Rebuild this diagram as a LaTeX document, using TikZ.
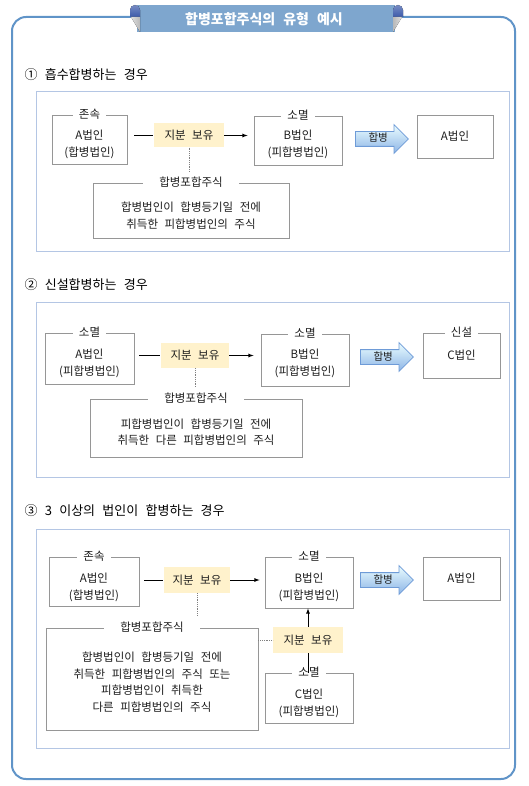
\documentclass[tikz,border=0pt]{standalone}
\usepackage{fontspec}
\setmainfont{Noto Sans CJK KR}[WordSpace=2.5]
\usepackage{tikz}
\usetikzlibrary{shapes.arrows}
\definecolor{frameblue}{RGB}{96,148,200}
\definecolor{innerblue}{RGB}{180,198,228}
\definecolor{boxgray}{RGB}{150,150,150}
\definecolor{holdyellow}{RGB}{255,242,204}
\definecolor{titleblue}{RGB}{126,166,206}
\definecolor{tabblue}{RGB}{60,90,170}
\definecolor{txtgray}{RGB}{30,30,30}

\begin{document}
\begin{tikzpicture}[x=1pt,y=-1pt,
    corp/.style={draw=boxgray,line width=0.8pt,inner sep=0pt,font=\fontsize{11.5}{13}\selectfont,text=txtgray},
    tag/.style={fill=white,inner xsep=6pt,inner ysep=1pt,font=\fontsize{11.5}{13}\selectfont,text=txtgray},
    txt/.style={align=center,font=\fontsize{11.5}{17}\selectfont,text=txtgray},
    note/.style={align=center,font=\fontsize{11.5}{16.5}\selectfont,text=txtgray},
    hold/.style={fill=holdyellow,minimum width=68pt,minimum height=25pt,font=\fontsize{11.5}{13}\selectfont,text=txtgray},
    merge/.style={single arrow,single arrow head extend=7pt,minimum height=53pt,inner xsep=2pt,inner ysep=2pt,
        text height=8pt,text depth=2pt,top color=blue!10!cyan!8,bottom color={rgb,255:red,140;green,180;blue,230},
        draw={rgb,255:red,110;green,155;blue,215},line width=0.8pt,font=\fontsize{10.5}{12}\selectfont,text=txtgray},
    heading/.style={anchor=west,font=\fontsize{13}{15}\selectfont},
    section/.style={draw=innerblue,line width=1pt},
    link/.style={line width=0.8pt},
    dotline/.style={gray,densely dotted,line width=0.8pt}]
    \useasboundingbox (0,0) rectangle (529,786);

    % Frame and title
    \draw[frameblue,line width=2pt,rounded corners=14pt] (12,17) rectangle (515,779);
    \fill[titleblue] (137,5) rectangle (395,32);
    \fill[top color=tabblue!70!white,bottom color=tabblue] (130,17) [rounded corners=5pt]-- (130,5) -- (140,5) [sharp corners]-- (140,17) -- cycle;
    \fill[left color=gray!25,right color=gray!55] (131,17) -- (140,17) -- (140,32) -- cycle;
    \fill[top color=tabblue!70!white,bottom color=tabblue] (403,17) [rounded corners=5pt]-- (403,5) -- (393,5) [sharp corners]-- (393,17) -- cycle;
    \fill[left color=gray!55,right color=gray!25] (393,17) -- (402,17) -- (393,32) -- cycle;
    \node[font=\bfseries\fontsize{14}{16}\selectfont,text=white] (title) at (264,19) {합병포합주식의 유형 예시};

    % Case 1
    \node[heading] (hd1) at (21,75) {① 흡수합병하는 경우};
    \draw[section] (36,92) rectangle (509,251);
    \node[corp,minimum width=75pt,minimum height=49pt] (a1) at (89.5,139.5) {};
    \node[tag] (a1t) at (a1.north) {존속};
    \node[txt] (a1x) at ([yshift=-4.5pt]a1.center) {A법인\\(합병법인)};
    \node[hold,minimum width=70pt,minimum height=24pt] (h1) at (189,135.5) {지분 보유};
    \node[corp,minimum width=88pt,minimum height=49pt] (b1) at (298,140.5) {};
    \node[tag] (b1t) at (b1.north) {소멸};
    \node[txt] (b1x) at ([yshift=-3.5pt]b1.center) {B법인\\(피합병법인)};
    \node[merge,anchor=tail] (m1) at (355,139) {합병};
    \node[corp,minimum width=76pt,minimum height=43pt] (r1) at (455,136.5) {A법인};
    \node[corp,minimum width=196pt,minimum height=55pt] (s1) at (191,210.5) {};
    \node[tag,inner xsep=16pt] (s1t) at (s1.north) {합병포합주식};
    \node[note] (s1x) at ([yshift=-5pt]s1.center) {합병법인이 합병등기일 전에\\취득한 피합병법인의 주식};
    \draw[link,shorten <=7pt,shorten >=1pt] (a1.east |- h1.west) -- (h1.west);
    \draw[link,-latex,shorten >=6pt] (h1.east) -- (b1.west |- h1.east);
    \draw[dotline,shorten >=5pt] (h1.south) -- (h1.south |- s1t.north);

    % Case 2
    \node[heading] (hd2) at (21,285) {② 신설합병하는 경우};
    \draw[section] (36,302) rectangle (509,477);
    \node[corp,minimum width=89pt,minimum height=51pt] (a2) at (89.5,358.5) {};
    \node[tag] (a2t) at (a2.north) {소멸};
    \node[txt] (a2x) at ([yshift=-5pt]a2.center) {A법인\\(피합병법인)};
    \node[hold] (h2) at (195,355.5) {지분 보유};
    \node[corp,minimum width=88pt,minimum height=52pt] (b2) at (305,360) {};
    \node[tag] (b2t) at (b2.north) {소멸};
    \node[txt] (b2x) at ([yshift=-3.5pt]b2.center) {B법인\\(피합병법인)};
    \node[merge,anchor=tail] (m2) at (360,357) {합병};
    \node[corp,minimum width=77pt,minimum height=45pt] (c2) at (461.5,355.5) {C법인};
    \node[tag] (c2t) at (c2.north) {신설};
    \node[corp,minimum width=212pt,minimum height=58pt] (s2) at (196,428) {};
    \node[tag,inner xsep=16pt] (s2t) at (s2.north) {합병포합주식};
    \node[note] (s2x) at ([yshift=-4pt]s2.center) {피합병법인이 합병등기일 전에\\취득한 다른 피합병법인의 주식};
    \draw[link,shorten <=5pt,shorten >=1pt] (a2.east |- h2.west) -- (h2.west);
    \draw[link,-latex,shorten >=7pt] (h2.east) -- (b2.west |- h2.east);
    \draw[dotline,shorten >=5pt] (h2.south) -- (h2.south |- s2t.north);

    % Case 3
    \node[heading] (hd3) at (21,511) {③ 3 이상의 법인이 합병하는 경우};
    \draw[section] (36,529) rectangle (509,748);
    \node[corp,minimum width=90pt,minimum height=49pt] (a3) at (94,581.5) {};
    \node[tag] (a3t) at (a3.north) {존속};
    \node[txt] (a3x) at ([yshift=-5.5pt]a3.center) {A법인\\(합병법인)};
    \node[hold,minimum width=66pt,minimum height=26pt] (h3) at (197,580) {지분 보유};
    \node[corp,minimum width=88pt,minimum height=51pt] (b3) at (309,582.5) {};
    \node[tag] (b3t) at (b3.north) {소멸};
    \node[txt] (b3x) at ([yshift=-5pt]b3.center) {B법인\\(피합병법인)};
    \node[merge,anchor=tail] (m3) at (360,580) {합병};
    \node[corp,minimum width=77pt,minimum height=43pt] (r3) at (461.5,578.5) {A법인};
    \node[corp,minimum width=212pt,minimum height=102pt] (s3) at (152,679) {};
    \node[tag,inner xsep=16pt] (s3t) at (s3.north) {합병포합주식};
    \node[note] (s3x) at ([yshift=-3pt]s3.center) {합병법인이 합병등기일 전에\\취득한 피합병법인의 주식 또는\\피합병법인이 취득한\\다른 피합병법인의 주식};
    \node[hold,minimum width=70pt,minimum height=26pt] (h4) at (308,640) {지분 보유};
    \node[corp,minimum width=88pt,minimum height=50pt] (c3) at (309,698) {};
    \node[tag] (c3t) at (c3.north) {소멸};
    \node[txt] (c3x) at ([yshift=-5.5pt]c3.center) {C법인\\(피합병법인)};
    \draw[link,shorten <=5pt,shorten >=1pt] (a3.east |- h3.west) -- (h3.west);
    \draw[link,-latex,shorten >=5pt] (h3.east) -- (b3.west |- h3.east);
    \draw[dotline,shorten >=5pt] (h3.south) -- (h3.south |- s3t.north);
    \draw[dotline] (s3.east |- h4.west) -- (h4.west);
    \draw[link] (h4.south |- c3.north) -- (h4.south);
    \draw[link,-latex] (h4.north) -- (h4.north |- b3.south);
\end{tikzpicture}
\end{document}
